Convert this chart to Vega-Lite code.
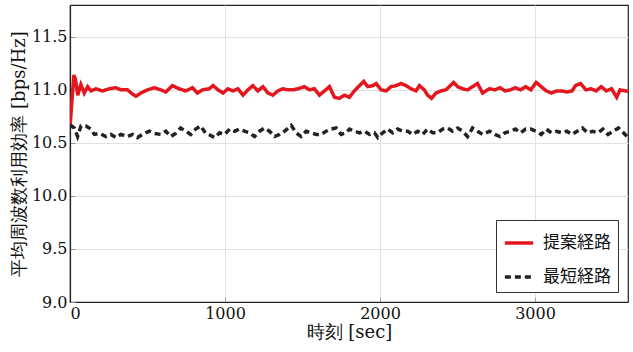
{
  "$schema": "https://vega.github.io/schema/vega-lite/v6.json",
  "width": 558,
  "height": 297,
  "autosize": {"type": "none"},
  "padding": {"left": 70, "top": 5, "right": 5, "bottom": 50},
  "background": "white",
  "config": {
    "view": {"stroke": "#222", "strokeWidth": 1.2}
  },
  "data": {
    "values": [
      {"t": 0, "v": 10.65, "s": "提案経路"},
      {"t": 10, "v": 10.85, "s": "提案経路"},
      {"t": 25, "v": 11.14, "s": "提案経路"},
      {"t": 35, "v": 11.1, "s": "提案経路"},
      {"t": 50, "v": 10.95, "s": "提案経路"},
      {"t": 70, "v": 11.05, "s": "提案経路"},
      {"t": 92, "v": 10.97, "s": "提案経路"},
      {"t": 114, "v": 11.03, "s": "提案経路"},
      {"t": 135, "v": 10.99, "s": "提案経路"},
      {"t": 167, "v": 11.01, "s": "提案経路"},
      {"t": 210, "v": 10.99, "s": "提案経路"},
      {"t": 253, "v": 11.01, "s": "提案経路"},
      {"t": 296, "v": 11.02, "s": "提案経路"},
      {"t": 328, "v": 11.0, "s": "提案経路"},
      {"t": 371, "v": 11.0, "s": "提案経路"},
      {"t": 403, "v": 10.96, "s": "提案経路"},
      {"t": 425, "v": 10.94, "s": "提案経路"},
      {"t": 457, "v": 10.97, "s": "提案経路"},
      {"t": 500, "v": 11.0, "s": "提案経路"},
      {"t": 543, "v": 11.02, "s": "提案経路"},
      {"t": 586, "v": 11.0, "s": "提案経路"},
      {"t": 618, "v": 10.98, "s": "提案経路"},
      {"t": 661, "v": 11.04, "s": "提案経路"},
      {"t": 704, "v": 11.01, "s": "提案経路"},
      {"t": 747, "v": 10.99, "s": "提案経路"},
      {"t": 790, "v": 11.02, "s": "提案経路"},
      {"t": 822, "v": 10.97, "s": "提案経路"},
      {"t": 854, "v": 11.0, "s": "提案経路"},
      {"t": 897, "v": 11.01, "s": "提案経路"},
      {"t": 923, "v": 11.04, "s": "提案経路"},
      {"t": 955, "v": 11.0, "s": "提案経路"},
      {"t": 987, "v": 10.97, "s": "提案経路"},
      {"t": 1019, "v": 11.01, "s": "提案経路"},
      {"t": 1051, "v": 10.99, "s": "提案経路"},
      {"t": 1084, "v": 11.01, "s": "提案経路"},
      {"t": 1116, "v": 10.95, "s": "提案経路"},
      {"t": 1148, "v": 11.0, "s": "提案経路"},
      {"t": 1180, "v": 11.04, "s": "提案経路"},
      {"t": 1212, "v": 10.99, "s": "提案経路"},
      {"t": 1245, "v": 11.03, "s": "提案経路"},
      {"t": 1277, "v": 10.97, "s": "提案経路"},
      {"t": 1309, "v": 10.95, "s": "提案経路"},
      {"t": 1341, "v": 10.99, "s": "提案経路"},
      {"t": 1373, "v": 11.01, "s": "提案経路"},
      {"t": 1405, "v": 11.0, "s": "提案経路"},
      {"t": 1438, "v": 11.0, "s": "提案経路"},
      {"t": 1470, "v": 11.01, "s": "提案経路"},
      {"t": 1513, "v": 11.03, "s": "提案経路"},
      {"t": 1545, "v": 11.0, "s": "提案経路"},
      {"t": 1577, "v": 11.01, "s": "提案経路"},
      {"t": 1609, "v": 10.95, "s": "提案経路"},
      {"t": 1642, "v": 10.99, "s": "提案経路"},
      {"t": 1674, "v": 11.03, "s": "提案経路"},
      {"t": 1706, "v": 10.93, "s": "提案経路"},
      {"t": 1738, "v": 10.92, "s": "提案経路"},
      {"t": 1770, "v": 10.95, "s": "提案経路"},
      {"t": 1802, "v": 10.93, "s": "提案経路"},
      {"t": 1835, "v": 10.99, "s": "提案経路"},
      {"t": 1868, "v": 11.04, "s": "提案経路"},
      {"t": 1895, "v": 11.08, "s": "提案経路"},
      {"t": 1921, "v": 11.03, "s": "提案経路"},
      {"t": 1953, "v": 11.04, "s": "提案経路"},
      {"t": 1975, "v": 11.06, "s": "提案経路"},
      {"t": 2007, "v": 11.0, "s": "提案経路"},
      {"t": 2039, "v": 10.99, "s": "提案経路"},
      {"t": 2071, "v": 11.03, "s": "提案経路"},
      {"t": 2104, "v": 11.04, "s": "提案経路"},
      {"t": 2136, "v": 11.06, "s": "提案経路"},
      {"t": 2168, "v": 11.04, "s": "提案経路"},
      {"t": 2200, "v": 11.01, "s": "提案経路"},
      {"t": 2232, "v": 10.99, "s": "提案経路"},
      {"t": 2254, "v": 11.04, "s": "提案経路"},
      {"t": 2286, "v": 11.0, "s": "提案経路"},
      {"t": 2307, "v": 10.95, "s": "提案経路"},
      {"t": 2333, "v": 10.92, "s": "提案経路"},
      {"t": 2361, "v": 10.97, "s": "提案経路"},
      {"t": 2393, "v": 10.99, "s": "提案経路"},
      {"t": 2425, "v": 11.0, "s": "提案経路"},
      {"t": 2447, "v": 11.03, "s": "提案経路"},
      {"t": 2475, "v": 11.07, "s": "提案経路"},
      {"t": 2501, "v": 11.03, "s": "提案経路"},
      {"t": 2533, "v": 11.01, "s": "提案経路"},
      {"t": 2565, "v": 11.0, "s": "提案経路"},
      {"t": 2597, "v": 11.03, "s": "提案経路"},
      {"t": 2629, "v": 11.06, "s": "提案経路"},
      {"t": 2662, "v": 10.97, "s": "提案経路"},
      {"t": 2705, "v": 11.01, "s": "提案経路"},
      {"t": 2741, "v": 11.0, "s": "提案経路"},
      {"t": 2774, "v": 11.02, "s": "提案経路"},
      {"t": 2807, "v": 10.99, "s": "提案経路"},
      {"t": 2841, "v": 11.0, "s": "提案経路"},
      {"t": 2874, "v": 11.02, "s": "提案経路"},
      {"t": 2907, "v": 11.0, "s": "提案経路"},
      {"t": 2940, "v": 11.03, "s": "提案経路"},
      {"t": 2973, "v": 11.0, "s": "提案経路"},
      {"t": 3007, "v": 11.07, "s": "提案経路"},
      {"t": 3040, "v": 11.03, "s": "提案経路"},
      {"t": 3073, "v": 10.99, "s": "提案経路"},
      {"t": 3106, "v": 10.97, "s": "提案経路"},
      {"t": 3139, "v": 10.99, "s": "提案経路"},
      {"t": 3173, "v": 10.99, "s": "提案経路"},
      {"t": 3206, "v": 10.98, "s": "提案経路"},
      {"t": 3239, "v": 10.99, "s": "提案経路"},
      {"t": 3261, "v": 11.04, "s": "提案経路"},
      {"t": 3294, "v": 11.06, "s": "提案経路"},
      {"t": 3328, "v": 11.0, "s": "提案経路"},
      {"t": 3361, "v": 11.01, "s": "提案経路"},
      {"t": 3394, "v": 10.99, "s": "提案経路"},
      {"t": 3427, "v": 11.03, "s": "提案経路"},
      {"t": 3460, "v": 10.99, "s": "提案経路"},
      {"t": 3494, "v": 11.01, "s": "提案経路"},
      {"t": 3527, "v": 10.93, "s": "提案経路"},
      {"t": 3549, "v": 11.0, "s": "提案経路"},
      {"t": 3582, "v": 10.99, "s": "提案経路"},
      {"t": 3600, "v": 10.99, "s": "提案経路"},
      {"t": 0, "v": 10.65, "s": "最短経路"},
      {"t": 10, "v": 10.66, "s": "最短経路"},
      {"t": 28, "v": 10.64, "s": "最短経路"},
      {"t": 49, "v": 10.56, "s": "最短経路"},
      {"t": 71, "v": 10.66, "s": "最短経路"},
      {"t": 103, "v": 10.66, "s": "最短経路"},
      {"t": 135, "v": 10.63, "s": "最短経路"},
      {"t": 157, "v": 10.58, "s": "最短経路"},
      {"t": 189, "v": 10.59, "s": "最短経路"},
      {"t": 232, "v": 10.56, "s": "最短経路"},
      {"t": 264, "v": 10.58, "s": "最短経路"},
      {"t": 296, "v": 10.55, "s": "最短経路"},
      {"t": 328, "v": 10.58, "s": "最短経路"},
      {"t": 371, "v": 10.56, "s": "最短経路"},
      {"t": 403, "v": 10.58, "s": "最短経路"},
      {"t": 435, "v": 10.55, "s": "最短経路"},
      {"t": 468, "v": 10.58, "s": "最短経路"},
      {"t": 511, "v": 10.61, "s": "最短経路"},
      {"t": 543, "v": 10.59, "s": "最短経路"},
      {"t": 586, "v": 10.58, "s": "最短経路"},
      {"t": 618, "v": 10.61, "s": "最短経路"},
      {"t": 650, "v": 10.56, "s": "最短経路"},
      {"t": 682, "v": 10.59, "s": "最短経路"},
      {"t": 714, "v": 10.64, "s": "最短経路"},
      {"t": 747, "v": 10.61, "s": "最短経路"},
      {"t": 779, "v": 10.58, "s": "最短経路"},
      {"t": 811, "v": 10.63, "s": "最短経路"},
      {"t": 843, "v": 10.66, "s": "最短経路"},
      {"t": 875, "v": 10.59, "s": "最短経路"},
      {"t": 908, "v": 10.57, "s": "最短経路"},
      {"t": 933, "v": 10.55, "s": "最短経路"},
      {"t": 965, "v": 10.595, "s": "最短経路"},
      {"t": 998, "v": 10.58, "s": "最短経路"},
      {"t": 1030, "v": 10.63, "s": "最短経路"},
      {"t": 1062, "v": 10.61, "s": "最短経路"},
      {"t": 1094, "v": 10.63, "s": "最短経路"},
      {"t": 1126, "v": 10.61, "s": "最短経路"},
      {"t": 1159, "v": 10.595, "s": "最短経路"},
      {"t": 1191, "v": 10.56, "s": "最短経路"},
      {"t": 1223, "v": 10.61, "s": "最短経路"},
      {"t": 1255, "v": 10.64, "s": "最短経路"},
      {"t": 1287, "v": 10.61, "s": "最短経路"},
      {"t": 1320, "v": 10.56, "s": "最短経路"},
      {"t": 1352, "v": 10.58, "s": "最短経路"},
      {"t": 1384, "v": 10.61, "s": "最短経路"},
      {"t": 1427, "v": 10.665, "s": "最短経路"},
      {"t": 1459, "v": 10.595, "s": "最短経路"},
      {"t": 1491, "v": 10.56, "s": "最短経路"},
      {"t": 1523, "v": 10.61, "s": "最短経路"},
      {"t": 1556, "v": 10.595, "s": "最短経路"},
      {"t": 1588, "v": 10.58, "s": "最短経路"},
      {"t": 1620, "v": 10.58, "s": "最短経路"},
      {"t": 1652, "v": 10.61, "s": "最短経路"},
      {"t": 1684, "v": 10.63, "s": "最短経路"},
      {"t": 1717, "v": 10.64, "s": "最短経路"},
      {"t": 1749, "v": 10.58, "s": "最短経路"},
      {"t": 1781, "v": 10.595, "s": "最短経路"},
      {"t": 1803, "v": 10.63, "s": "最短経路"},
      {"t": 1835, "v": 10.61, "s": "最短経路"},
      {"t": 1868, "v": 10.595, "s": "最短経路"},
      {"t": 1900, "v": 10.61, "s": "最短経路"},
      {"t": 1932, "v": 10.58, "s": "最短経路"},
      {"t": 1964, "v": 10.595, "s": "最短経路"},
      {"t": 1986, "v": 10.55, "s": "最短経路"},
      {"t": 2018, "v": 10.595, "s": "最短経路"},
      {"t": 2050, "v": 10.63, "s": "最短経路"},
      {"t": 2082, "v": 10.595, "s": "最短経路"},
      {"t": 2114, "v": 10.63, "s": "最短経路"},
      {"t": 2147, "v": 10.61, "s": "最短経路"},
      {"t": 2179, "v": 10.61, "s": "最短経路"},
      {"t": 2211, "v": 10.58, "s": "最短経路"},
      {"t": 2243, "v": 10.61, "s": "最短経路"},
      {"t": 2275, "v": 10.58, "s": "最短経路"},
      {"t": 2307, "v": 10.63, "s": "最短経路"},
      {"t": 2340, "v": 10.595, "s": "最短経路"},
      {"t": 2372, "v": 10.595, "s": "最短経路"},
      {"t": 2404, "v": 10.63, "s": "最短経路"},
      {"t": 2436, "v": 10.64, "s": "最短経路"},
      {"t": 2468, "v": 10.61, "s": "最短経路"},
      {"t": 2501, "v": 10.64, "s": "最短経路"},
      {"t": 2533, "v": 10.61, "s": "最短経路"},
      {"t": 2565, "v": 10.56, "s": "最短経路"},
      {"t": 2597, "v": 10.64, "s": "最短経路"},
      {"t": 2629, "v": 10.61, "s": "最短経路"},
      {"t": 2662, "v": 10.58, "s": "最短経路"},
      {"t": 2708, "v": 10.61, "s": "最短経路"},
      {"t": 2741, "v": 10.58, "s": "最短経路"},
      {"t": 2774, "v": 10.56, "s": "最短経路"},
      {"t": 2807, "v": 10.595, "s": "最短経路"},
      {"t": 2841, "v": 10.61, "s": "最短経路"},
      {"t": 2874, "v": 10.63, "s": "最短経路"},
      {"t": 2907, "v": 10.595, "s": "最短経路"},
      {"t": 2940, "v": 10.63, "s": "最短経路"},
      {"t": 2973, "v": 10.63, "s": "最短経路"},
      {"t": 3007, "v": 10.61, "s": "最短経路"},
      {"t": 3040, "v": 10.58, "s": "最短経路"},
      {"t": 3073, "v": 10.63, "s": "最短経路"},
      {"t": 3106, "v": 10.595, "s": "最短経路"},
      {"t": 3139, "v": 10.61, "s": "最短経路"},
      {"t": 3173, "v": 10.595, "s": "最短経路"},
      {"t": 3206, "v": 10.61, "s": "最短経路"},
      {"t": 3239, "v": 10.58, "s": "最短経路"},
      {"t": 3272, "v": 10.61, "s": "最短経路"},
      {"t": 3306, "v": 10.64, "s": "最短経路"},
      {"t": 3339, "v": 10.595, "s": "最短経路"},
      {"t": 3372, "v": 10.61, "s": "最短経路"},
      {"t": 3405, "v": 10.595, "s": "最短経路"},
      {"t": 3438, "v": 10.63, "s": "最短経路"},
      {"t": 3471, "v": 10.58, "s": "最短経路"},
      {"t": 3505, "v": 10.61, "s": "最短経路"},
      {"t": 3538, "v": 10.64, "s": "最短経路"},
      {"t": 3571, "v": 10.595, "s": "最短経路"},
      {"t": 3600, "v": 10.55, "s": "最短経路"}
    ]
  },
  "mark": {"type": "line", "strokeWidth": 3.5, "clip": true},
  "encoding": {
    "x": {
      "field": "t",
      "type": "quantitative",
      "scale": {"domain": [0, 3600], "nice": false},
      "axis": {
        "values": [0, 1000, 2000, 3000], "format": "d", "title": "時刻 [sec]",
        "labelFont": "DejaVu Serif", "labelFontSize": 16, "labelColor": "#111",
        "titleFont": "DejaVu Serif", "titleFontSize": 18, "titleFontWeight": "normal", "titleColor": "#111",
        "domainColor": "#222", "domainWidth": 1.2,
        "ticks": true, "tickSize": -5, "tickColor": "#999",
        "gridColor": "#e2e2e2",
        "labelPadding": 8, "titlePadding": 2
      }
    },
    "y": {
      "field": "v",
      "type": "quantitative",
      "scale": {"domain": [9, 11.8], "nice": false, "zero": false},
      "axis": {
        "values": [9, 9.5, 10, 10.5, 11, 11.5], "format": ".1f", "title": "平均周波数利用効率 [bps/Hz]",
        "labelFont": "DejaVu Serif", "labelFontSize": 16, "labelColor": "#111",
        "titleFont": "DejaVu Serif", "titleFontSize": 18, "titleFontWeight": "normal", "titleColor": "#111",
        "domainColor": "#222", "domainWidth": 1.2,
        "ticks": true, "tickSize": -5, "tickColor": "#999",
        "gridColor": "#e2e2e2",
        "labelPadding": 8, "titlePadding": 3
      }
    },
    "color": {
      "field": "s",
      "type": "nominal",
      "sort": ["提案経路", "最短経路"],
      "scale": {"domain": ["提案経路", "最短経路"], "range": ["#e3161e", "#222222"]},
      "legend": {
        "title": null,
        "orient": "bottom-right",
        "offset": 10,
        "padding": 7,
        "strokeColor": "#333",
        "fillColor": "white",
        "symbolType": "stroke",
        "symbolSize": 800,
        "symbolStrokeWidth": 3.5,
        "rowPadding": 10,
        "labelOffset": 8,
        "labelFont": "Noto Sans CJK JP",
        "labelFontSize": 17,
        "labelColor": "#111",
        "cornerRadius": 0
      }
    },
    "strokeDash": {
      "field": "s",
      "type": "nominal",
      "sort": ["提案経路", "最短経路"],
      "scale": {"domain": ["提案経路", "最短経路"], "range": [[1, 0], [6, 4]]},
      "legend": {"title": null}
    }
  }
}
